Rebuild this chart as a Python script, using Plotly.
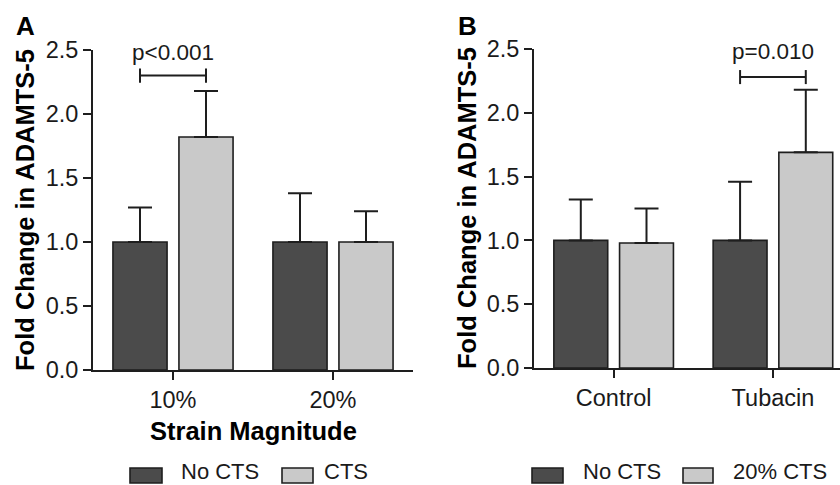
import plotly.graph_objects as go

# ---------------- data ----------------
groups_A = ["10%", "20%"]
no_cts_A = [1.0, 1.0]
no_cts_A_err = [0.27, 0.38]
cts_A = [1.82, 1.0]
cts_A_err = [0.36, 0.24]

groups_B = ["Control", "Tubacin"]
no_cts_B = [1.0, 1.0]
no_cts_B_err = [0.32, 0.46]
cts20_B = [0.98, 1.69]
cts20_B_err = [0.27, 0.49]

series_A = ["No CTS", "CTS"]
series_B = ["No CTS", "20% CTS"]
y_ticks = [0.0, 0.5, 1.0, 1.5, 2.0, 2.5]
sig_A = {"group": 0, "text": "p<0.001", "y": 2.3}
sig_B = {"group": 1, "text": "p=0.010", "y": 2.28}

# ---------------- style ----------------
DARK = "#4b4b4b"
LIGHT = "#c9c9c9"
LINE = "#1e1e1e"
FONT = "Arial, Liberation Sans, sans-serif"
W, H = 840, 485
BARGAP = 0.175
GROUPGAP = 0.18
OFF = (1 - BARGAP) / 4  # centre offset of each bar within a group


def px(x):
    return x / W


def py(y):
    return 1 - y / H


fig = go.Figure()


def add_bars(xaxis, yaxis, cats, vals, errs, name, color):
    fig.add_trace(go.Bar(
        x=cats, y=vals, name=name, xaxis=xaxis, yaxis=yaxis,
        marker=dict(color=color, line=dict(color=LINE, width=1.6)),
        error_y=dict(type="data", symmetric=False, array=errs,
                     arrayminus=[0] * len(errs), color=LINE,
                     thickness=2, width=12),
        showlegend=False,
    ))


add_bars("x", "y", groups_A, no_cts_A, no_cts_A_err, series_A[0], DARK)
add_bars("x", "y", groups_A, cts_A, cts_A_err, series_A[1], LIGHT)
add_bars("x2", "y2", groups_B, no_cts_B, no_cts_B_err, series_B[0], DARK)
add_bars("x2", "y2", groups_B, cts20_B, cts20_B_err, series_B[1], LIGHT)

axis_common = dict(showline=True, linecolor=LINE, linewidth=2,
                   ticks="outside", ticklen=8, tickwidth=2, tickcolor=LINE,
                   showgrid=False, zeroline=False, automargin=False,
                   tickfont=dict(family=FONT, size=23.5, color="#1a1a1a"))

fig.update_layout(
    width=W, height=H, margin=dict(l=0, r=0, t=0, b=0, pad=0, autoexpand=False),
    paper_bgcolor="white", plot_bgcolor="white",
    barmode="group", bargap=BARGAP, bargroupgap=GROUPGAP,
    xaxis=dict(domain=[px(93), px(413)], anchor="y", range=[-0.5, 1.5],
               type="category", **axis_common),
    yaxis=dict(domain=[py(370), py(50)], anchor="x", range=[0, 2.5],
               tickvals=y_ticks, ticktext=[f"{v:.1f}" for v in y_ticks],
               **axis_common),
    xaxis2=dict(domain=[px(534), 1.0], anchor="y2", range=[-0.5, 1.421],
                type="category", **axis_common),
    yaxis2=dict(domain=[py(368), py(49)], anchor="x2", range=[0, 2.5],
                tickvals=y_ticks, ticktext=[f"{v:.1f}" for v in y_ticks],
                **axis_common),
    showlegend=False,
)

annotations = []
shapes = []

# panel letters
for letter, x in (("A", 25), ("B", 467)):
    annotations.append(dict(text=f"<b>{letter}</b>", x=px(x), y=py(26),
                            xref="paper", yref="paper", showarrow=False,
                            xanchor="center", yanchor="middle",
                            font=dict(family=FONT, size=26, color="black")))

# y axis titles
for x, y in ((25, 210), (467, 208)):
    annotations.append(dict(text="<b>Fold Change in ADAMTS-5</b>", x=px(x), y=py(y),
                            xref="paper", yref="paper", showarrow=False,
                            textangle=-90, xanchor="center", yanchor="middle",
                            font=dict(family=FONT, size=25.5, color="black")))

# x axis title panel A
annotations.append(dict(text="<b>Strain Magnitude</b>", x=px(254), y=py(431),
                        xref="paper", yref="paper", showarrow=False,
                        xanchor="center", yanchor="middle",
                        font=dict(family=FONT, size=25.5, color="black")))

# significance brackets
for sig, xr, yr in ((sig_A, "x", "y"), (sig_B, "x2", "y2")):
    g = sig["group"]
    x0, x1 = g - OFF, g + OFF
    yb = sig["y"]
    shapes.append(dict(type="line", xref=xr, yref=yr, x0=x0, x1=x1, y0=yb, y1=yb,
                       line=dict(color=LINE, width=2)))
    for xx in (x0, x1):
        shapes.append(dict(type="line", xref=xr, yref=yr, x0=xx, x1=xx,
                           y0=yb - 0.055, y1=yb + 0.055,
                           line=dict(color=LINE, width=2)))
    annotations.append(dict(text=sig["text"], x=g, y=2.48, xref=xr, yref=yr,
                            showarrow=False, xanchor="center", yanchor="middle",
                            font=dict(family=FONT, size=22.5, color="#1a1a1a")))

# custom legends
legend_items = [
    (series_A[0], DARK, 130, 162, 180),
    (series_A[1], LIGHT, 282, 313, 323),
    (series_B[0], DARK, 532, 563, 582),
    (series_B[1], LIGHT, 683, 713, 732),
]
for name, color, bx0, bx1, tx in legend_items:
    shapes.append(dict(type="rect", xref="paper", yref="paper",
                       x0=px(bx0), x1=px(bx1), y0=py(483), y1=py(468),
                       fillcolor=color, line=dict(color=LINE, width=1.6)))
    annotations.append(dict(text=name, x=px(tx), y=py(471), xref="paper", yref="paper",
                            showarrow=False, xanchor="left", yanchor="middle",
                            borderpad=0,
                            font=dict(family=FONT, size=22, color="#1a1a1a")))

fig.update_layout(annotations=annotations, shapes=shapes)

fig.write_html(
    "out.html",
    config={"displayModeBar": False},
    post_script="document.body.style.margin='0';document.body.style.overflow='hidden';",
)
